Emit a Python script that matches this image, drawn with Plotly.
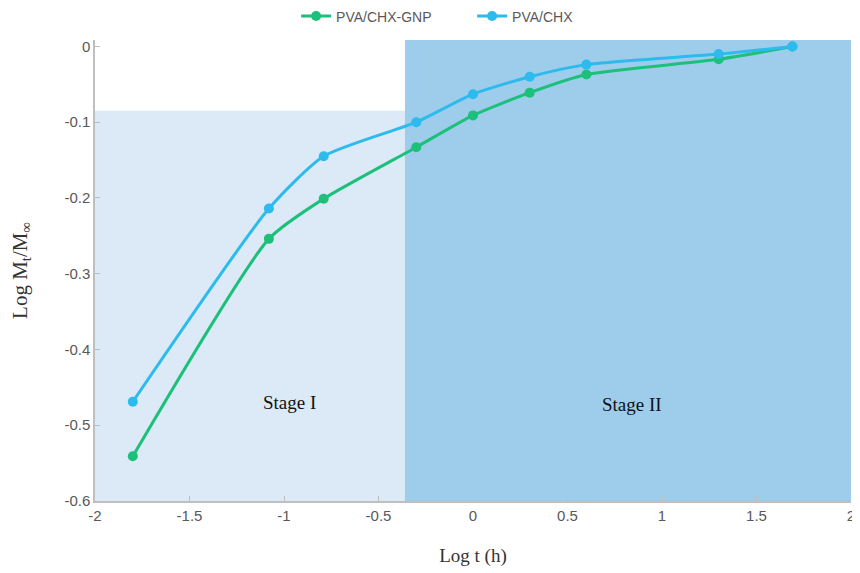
import plotly.graph_objects as go

# Data (log t in hours, log Mt/Minf)
log_t = [-1.80, -1.08, -0.79, -0.30, 0.0, 0.30, 0.60, 1.30, 1.69]
gnp_vals = [-0.541, -0.254, -0.201, -0.133, -0.091, -0.061, -0.037, -0.017, 0.0]
chx_vals = [-0.469, -0.214, -0.145, -0.100, -0.063, -0.040, -0.024, -0.010, 0.0]

x_ticks = [-2, -1.5, -1, -0.5, 0, 0.5, 1, 1.5, 2]
x_tick_text = ["-2", "-1.5", "-1", "-0.5", "0", "0.5", "1", "1.5", "2"]
y_ticks = [0, -0.1, -0.2, -0.3, -0.4, -0.5, -0.6]
y_tick_text = ["0", "-0.1", "-0.2", "-0.3", "-0.4", "-0.5", "-0.6"]

# Stage regions
stage_boundary = -0.36
stage1_top = -0.085
x_min, x_max = -2, 2
y_min, y_max = -0.6, 0.0085

green = "#1dc07a"
blue = "#2dbbee"

fig = go.Figure()
fig.add_trace(go.Scatter(
    x=log_t, y=gnp_vals, mode="lines+markers", name="PVA/CHX-GNP",
    line=dict(color=green, width=3, shape="spline", smoothing=0.6),
    marker=dict(color=green, size=10),
))
fig.add_trace(go.Scatter(
    x=log_t, y=chx_vals, mode="lines+markers", name="PVA/CHX",
    line=dict(color=blue, width=3, shape="spline", smoothing=0.6),
    marker=dict(color=blue, size=10),
))

fig.add_shape(type="rect", xref="x", yref="y", x0=x_min, x1=stage_boundary,
              y0=y_min, y1=stage1_top, fillcolor="#dbeaf6", line_width=0, layer="below")
fig.add_shape(type="rect", xref="x", yref="y", x0=stage_boundary, x1=x_max,
              y0=y_min, y1=y_max, fillcolor="#9ecdec", line_width=0, layer="below")

fig.add_annotation(x=-0.97, y=-0.47, text="Stage I", showarrow=False,
                   font=dict(family="Liberation Serif", size=19, color="#111111"))
fig.add_annotation(x=0.84, y=-0.472, text="Stage II", showarrow=False,
                   font=dict(family="Liberation Serif", size=19, color="#111111"))

fig.update_layout(
    width=852, height=565,
    margin=dict(l=87, r=9, t=32, b=72),
    paper_bgcolor="white", plot_bgcolor="white",
    legend=dict(orientation="h", x=0.266, xanchor="left",
                yref="container", y=0.985, yanchor="middle",
                font=dict(family="Liberation Sans", size=14, color="#595959"),
                entrywidth=131, entrywidthmode="pixels", bgcolor="rgba(0,0,0,0)"),
    xaxis=dict(range=[x_min, x_max], tickvals=x_ticks, ticktext=x_tick_text,
               automargin=False,
               showgrid=False, zeroline=False, showline=True, linecolor="#bfbfbf",
               linewidth=1.5, ticks="inside", ticklen=5, tickcolor="#bfbfbf",
               tickfont=dict(family="Liberation Sans", size=15, color="#595959"),
               title=dict(text="Log t (h)", font=dict(family="Liberation Serif", size=19, color="#333333"),
                          standoff=26)),
    yaxis=dict(range=[y_min, y_max], tickvals=y_ticks, ticktext=y_tick_text,
               automargin=False,
               showgrid=False, zeroline=False, showline=True, linecolor="#bfbfbf",
               linewidth=1.5, ticks="inside", ticklen=5, tickcolor="#bfbfbf",
               tickfont=dict(family="Liberation Sans", size=15, color="#595959"),
               title=dict(text="Log M<sub>t</sub>/M<sub>∞</sub>",
                          font=dict(family="Liberation Serif", size=21, color="#333333"),
                          standoff=31)),
)

fig.write_html("out.html")
